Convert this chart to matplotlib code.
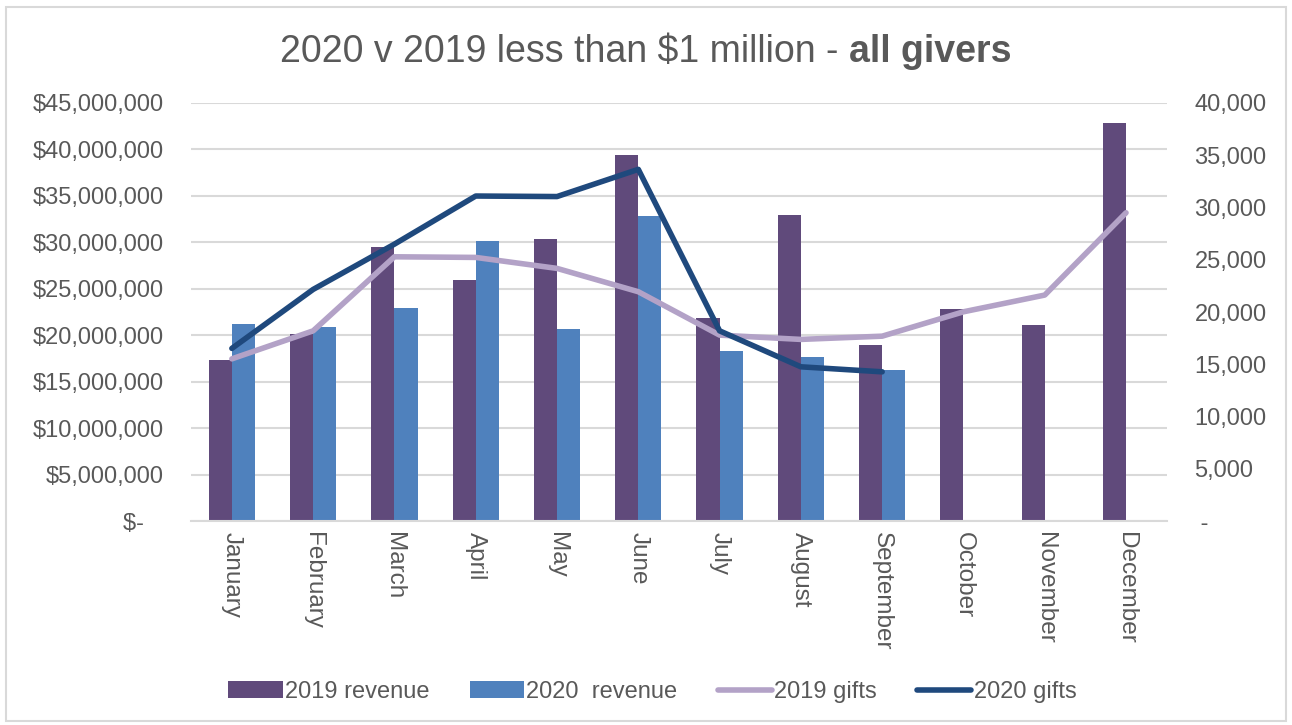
import numpy as np
import matplotlib.pyplot as plt
from matplotlib.patches import Rectangle
from matplotlib.ticker import FuncFormatter, MultipleLocator

plt.rcParams['font.family'] = ['Liberation Sans', 'DejaVu Sans']

months = ['January', 'February', 'March', 'April', 'May', 'June', 'July',
          'August', 'September', 'October', 'November', 'December']

# revenue in dollars
rev_2019 = [17.4e6, 20.1e6, 29.5e6, 26.0e6, 30.4e6, 39.4e6, 21.9e6,
            32.9e6, 19.0e6, 22.8e6, 21.1e6, 42.8e6]
rev_2020 = [21.2e6, 20.9e6, 22.9e6, 30.2e6, 20.7e6, 32.8e6, 18.3e6,
            17.7e6, 16.3e6]

# number of gifts
gifts_2019 = [15530, 18210, 25290, 25230, 24180, 21950, 17800,
              17390, 17700, 20030, 21630, 29500]
gifts_2020 = [16530, 22170, 26500, 31100, 31050, 33650, 18210,
              14770, 14290]

c_rev19 = '#604A7B'
c_rev20 = '#4F81BD'
c_gift19 = '#B3A2C7'
c_gift20 = '#1F497D'
grey_txt = '#595959'
grid_c = '#D9D9D9'

fig = plt.figure(figsize=(12.92, 7.25), dpi=100)
ax = fig.add_axes([0.148, 0.281, 0.755, 0.577])
ax2 = ax.twinx()

x = np.arange(len(months))
w = 0.285
b19 = ax.bar(x - w / 2, rev_2019, w, color=c_rev19, label='2019 revenue', zorder=2)
b20 = ax.bar(x[:len(rev_2020)] + w / 2, rev_2020, w, color=c_rev20,
             label='2020  revenue', zorder=2)

l19, = ax2.plot(x, gifts_2019, color=c_gift19, lw=4, solid_capstyle='round',
                solid_joinstyle='round', label='2019 gifts')
l20, = ax2.plot(x[:len(gifts_2020)], gifts_2020, color=c_gift20, lw=4,
                solid_capstyle='round', solid_joinstyle='round', label='2020 gifts')

ax.set_xlim(-0.5, 11.5)
ax.set_ylim(0, 45e6)
ax2.set_ylim(0, 40000)
ax.yaxis.set_major_locator(MultipleLocator(5e6))
ax2.yaxis.set_major_locator(MultipleLocator(5000))

ax.yaxis.set_major_formatter(FuncFormatter(
    lambda v, p: '$-   ' if v == 0 else f'${v:,.0f}'))
ax2.yaxis.set_major_formatter(FuncFormatter(
    lambda v, p: ' -' if v == 0 else f'{v:,.0f}'))

ax.set_xticks(x)
ax.set_xticklabels(months, rotation=270)

ax.grid(axis='y', color=grid_c, lw=1.5, zorder=0)
ax.set_axisbelow(True)
for a in (ax, ax2):
    for s in a.spines.values():
        s.set_visible(False)
    a.tick_params(length=0, labelsize=17, labelcolor=grey_txt)
ax.tick_params(axis='x', labelsize=17.5)
ax.spines['bottom'].set_visible(True)
ax.spines['bottom'].set_color(grid_c)
ax.spines['bottom'].set_linewidth(1.5)
ax.tick_params(axis='y', pad=20)
ax.tick_params(axis='x', pad=8)
ax2.tick_params(axis='y', pad=20)

# title: regular part followed by a bold part
t1 = fig.text(0.22, 1 - 62 / 725, '2020 v 2019 less than $1 million - ',
              fontsize=27, color=grey_txt, va='baseline', ha='left')
t2 = fig.text(0, 0, 'all givers', fontsize=27, color=grey_txt,
              va='baseline', ha='left', weight='bold')
fig.canvas.draw()
r = fig.canvas.get_renderer()
w1 = t1.get_window_extent(r).width
w2 = t2.get_window_extent(r).width
W = fig.bbox.width
x0 = (W - (w1 + w2)) / 2 / W
t1.set_x(x0)
t2.set_position((x0 + w1 / W, 1 - 62 / 725))

fig.legend([b19, b20, l19, l20],
           ['2019 revenue', '2020  revenue', '2019 gifts', '2020 gifts'],
           loc='center', bbox_to_anchor=(0.505, 1 - 692 / 725), ncol=4,
           frameon=False, fontsize=17, labelcolor=grey_txt,
           handlelength=2.3, handleheight=0.7, handletextpad=0.1,
           columnspacing=1.7)

fig.patches.append(Rectangle((6 / 1292, 4 / 725), 1 - 12 / 1292, 1 - 11 / 725,
                             transform=fig.transFigure, fill=False,
                             edgecolor=grid_c, lw=1.5))

fig.savefig('out.png', dpi=100)
